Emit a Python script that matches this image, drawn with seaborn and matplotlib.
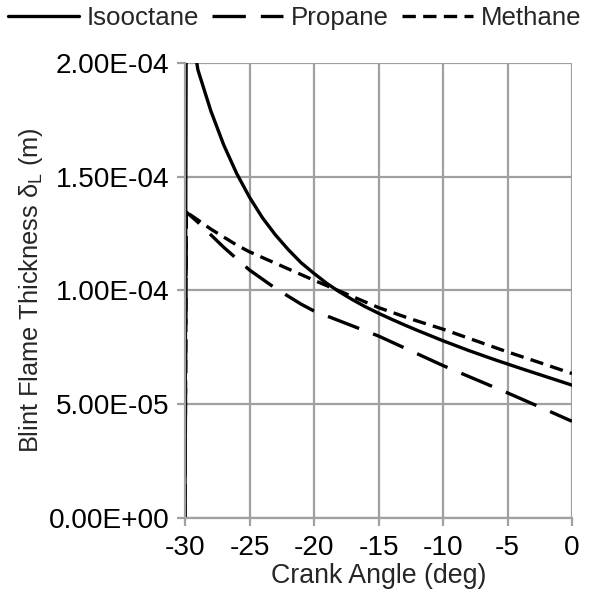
import numpy as np
import pandas as pd
import matplotlib
matplotlib.use("Agg")
import matplotlib.pyplot as plt
from matplotlib.ticker import FuncFormatter, MultipleLocator
import seaborn as sns

# ---- data ----
fuels = ["Isooctane", "Propane", "Methane"]

iso_x = [-30, -29.9, -29.5, -29, -28, -27, -26, -25, -24, -23, -22, -21, -20, -19, -18, -17,
         -16, -15, -14, -13, -12, -11, -10, -8, -6, -5, -4, -2, 0]
iso_y = [0.0, 2.35, 2.15, 1.97, 1.79, 1.64, 1.515, 1.41, 1.32, 1.245, 1.18, 1.122, 1.075, 1.031,
         0.993, 0.959, 0.928, 0.900, 0.874, 0.849, 0.825, 0.802, 0.779, 0.736, 0.696, 0.677,
         0.658, 0.621, 0.584]

pro_x = [-30, -29.9, -29, -28, -27, -26, -25, -24, -23, -22, -21, -20, -17.5, -15, -12.5, -10,
         -7.5, -5, -2.5, 0]
pro_y = [0.0, 1.345, 1.30, 1.245, 1.19, 1.14, 1.09, 1.05, 1.01, 0.975, 0.94, 0.91, 0.855, 0.80,
         0.735, 0.67, 0.61, 0.55, 0.488, 0.425]

met_x = [-30, -29.9, -29, -28, -27, -26, -25, -24, -23, -22, -21, -20, -17.5, -15, -12.5, -10,
         -7.5, -5, -2.5, 0]
met_y = [0.0, 1.345, 1.31, 1.27, 1.235, 1.20, 1.17, 1.145, 1.12, 1.095, 1.07, 1.045, 0.985,
         0.925, 0.875, 0.83, 0.78, 0.73, 0.683, 0.635]

scale = 1e-4  # values above are in units of 1e-4 m

df = pd.concat([
    pd.DataFrame({"x": iso_x, "y": np.array(iso_y) * scale, "Fuel": fuels[0]}),
    pd.DataFrame({"x": pro_x, "y": np.array(pro_y) * scale, "Fuel": fuels[1]}),
    pd.DataFrame({"x": met_x, "y": np.array(met_y) * scale, "Fuel": fuels[2]}),
], ignore_index=True)

# ---- style ----
sns.set_style("white")
plt.rcParams["font.family"] = ["Liberation Sans", "DejaVu Sans"]
plt.rcParams["mathtext.fontset"] = "custom"
plt.rcParams["mathtext.rm"] = "Liberation Sans"

fig = plt.figure(figsize=(5.89, 5.97), dpi=100)
ax = fig.add_axes([185 / 589, 1 - 518 / 597, (572 - 185) / 589, (518 - 63) / 597])

dashes = {"Isooctane": "", "Propane": (10, 4.5), "Methane": (4, 2.2)}
sns.lineplot(data=df, x="x", y="y", style="Fuel", style_order=fuels, dashes=dashes,
             color="black", linewidth=2.4, estimator=None, sort=False, legend=False, ax=ax)

ax.set_xlim(-30, 0)
ax.set_ylim(0, 2e-4)
ax.xaxis.set_major_locator(MultipleLocator(5))
ax.yaxis.set_major_locator(MultipleLocator(5e-5))
ax.yaxis.set_major_formatter(FuncFormatter(lambda v, p: f"{v:.2E}"))
ax.xaxis.set_major_formatter(FuncFormatter(lambda v, p: "0" if abs(v) < 1e-9 else f"{v:g}"))

gc = "#a0a0a0"
ax.grid(True, color=gc, linewidth=1.6)
ax.set_axisbelow(True)
for s in ["top", "right"]:
    ax.spines[s].set_visible(False)
for s in ["left", "bottom"]:
    ax.spines[s].set_color(gc)
    ax.spines[s].set_linewidth(1.6)

ax.tick_params(axis="both", which="major", labelsize=20.2, color=gc, length=6, width=1.6,
               direction="out", bottom=True, left=True, labelcolor="black")
ax.tick_params(axis="y", pad=5)
ax.tick_params(axis="x", pad=6)

ax.set_xlabel("Crank Angle (deg)", fontsize=19.3, labelpad=2)
ax.set_ylabel("Blint Flame Thickness δ$_\\mathregular{L}$ (m)", fontsize=18.3, labelpad=3)

handles = ax.get_lines()[:3]
fig.legend(handles, fuels, loc="center", bbox_to_anchor=(0.5, 1 - 18 / 597), ncol=3,
           frameon=False, fontsize=18.6, handlelength=2.75, handletextpad=0.3,
           columnspacing=0.5, borderpad=0, borderaxespad=0)

fig.savefig("out.png", dpi=100)
